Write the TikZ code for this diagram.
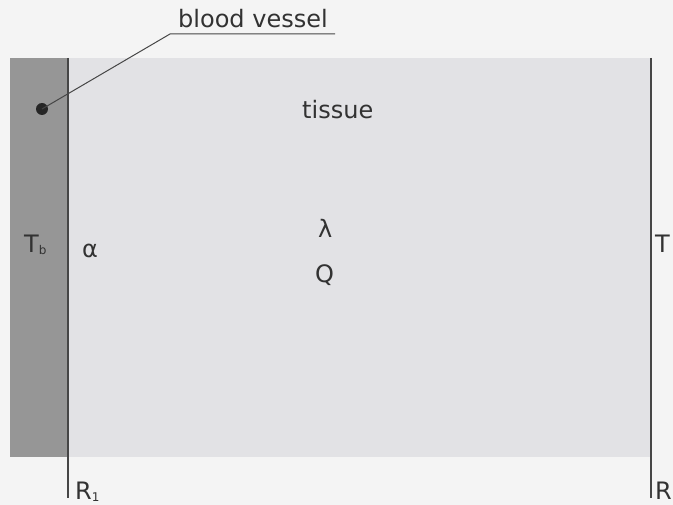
\documentclass[tikz,border=0pt]{standalone}
\usepackage{fontspec}
\setmainfont{DejaVu Sans}
\definecolor{bgc}{RGB}{244,244,244}
\definecolor{tissuec}{RGB}{226,226,229}
\definecolor{vesselc}{RGB}{150,150,150}
\definecolor{inkc}{RGB}{50,50,50}
\definecolor{linec}{RGB}{70,70,70}
\tikzset{
  lbl/.style={inner sep=0pt, text=inkc, font=\fontsize{24}{28}\selectfont, anchor=base west},
  wall/.style={draw=linec, line width=1.3pt},
}
\newcommand{\subtxt}[1]{\raisebox{-0.1ex}{\fontsize{12}{14}\selectfont #1}}
\begin{document}
\begin{tikzpicture}[x=1pt,y=-1pt]
\useasboundingbox (0,0) rectangle (673,505);
\fill[bgc] (0,0) rectangle (673,505);
% tissue and vessel
\fill[tissuec] (68,58) rectangle (651,457);
\fill[vesselc] (10,58) rectangle (68,457);
% walls
\coordinate (l1) at (68,58);
\coordinate (l2) at (68,498);
\coordinate (r1) at (651,58);
\coordinate (r2) at (651,498);
\draw[wall] (l1) -- (l2);
\draw[wall] (r1) -- (r2);
% labels
\node[lbl] (bv) at (178,28) {blood vessel};
\node[lbl] (tissue) at (302,119) {tissue};
\node[lbl] (lam) at (318,238) {λ};
\node[lbl] (Q) at (315,283) {Q};
\node[lbl] (alpha) at (82,258) {α};
\node[lbl] (Tb) at (24,253) {T\subtxt{b}};
\node[lbl] (Tr) at (655,253) {T};
\node[lbl] (R1) at (75,500) {R\subtxt{1}};
\node[lbl] (R2) at (655,500) {R};
% leader
\node[circle, fill=black!85, inner sep=0pt, minimum size=12pt] (dot) at (42,109) {};
\coordinate (k) at (170,34);
\coordinate (e) at (335,34);
\draw[linec, line width=1pt] (dot.center) -- (k) -- (e);
\end{tikzpicture}
\end{document}
